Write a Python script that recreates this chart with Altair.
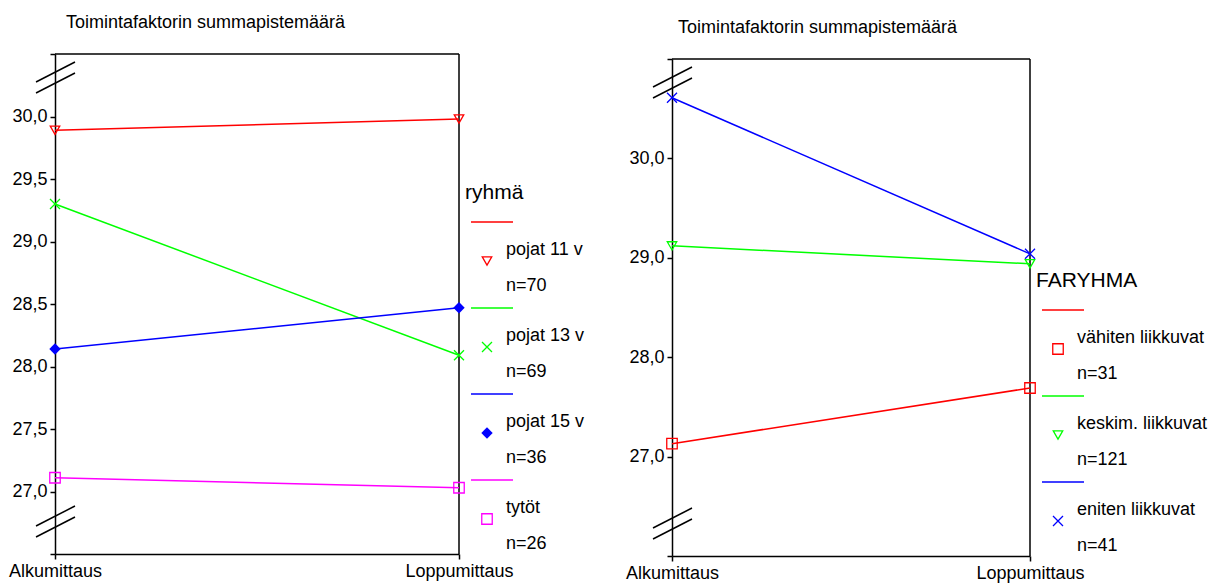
import altair as alt
import pandas as pd

FONT = "Liberation Sans"
MEASURES = ["Alkumittaus", "Loppumittaus"]
PANEL_TITLE = "Toimintafaktorin summapistemäärä"

# Left panel: age / gender groups
LEFT_LEGEND_TITLE = "ryhmä"
LEFT_GROUPS = ["pojat 11 v", "pojat 13 v", "pojat 15 v", "tytöt"]
LEFT_N = [70, 69, 36, 26]
LEFT_START = [29.89, 29.30, 28.14, 27.11]
LEFT_END = [29.98, 28.09, 28.47, 27.03]
LEFT_COLORS = ["#ff0000", "#00ff00", "#0000ff", "#ff00ff"]
LEFT_SHAPES = ["triangle-down", "x", "diamond", "square"]
LEFT_FILLED = [False, False, True, False]
LEFT_DOMAIN = [26.5, 30.5]
LEFT_TICKS = [26.5, 27.0, 27.5, 28.0, 28.5, 29.0, 29.5, 30.0, 30.5]

# Right panel: physical activity groups
RIGHT_LEGEND_TITLE = "FARYHMA"
RIGHT_GROUPS = ["vähiten liikkuvat", "keskim. liikkuvat", "eniten liikkuvat"]
RIGHT_N = [31, 121, 41]
RIGHT_START = [27.13, 29.12, 30.61]
RIGHT_END = [27.69, 28.94, 29.04]
RIGHT_COLORS = ["#ff0000", "#00ff00", "#0000ff"]
RIGHT_SHAPES = ["square", "triangle-down", "x"]
RIGHT_FILLED = [False, False, False]
RIGHT_DOMAIN = [26.0, 31.0]
RIGHT_TICKS = [26.0, 27.0, 28.0, 29.0, 30.0, 31.0]

X_PATH = "M-1,-1L1,1M-1,1L1,-1"
SHAPE_PATHS = {"x": X_PATH}
SHAPE_SIZES = {"triangle-down": 90, "x": 100, "diamond": 130, "square": 110}

ONE = pd.DataFrame({"k": [0]})


def deco():
    return alt.Chart(ONE)


def panel(legend_title, groups, ns, start, end, colors, shapes, filled,
          domain, ticks, width, height, inset, left_pad, top_pad, right_ext,
          bottom_ext, title_dx):
    """One framed panel; the frame starts `inset` px below the view's top."""
    df = pd.DataFrame({
        "ryhma": [g for g in groups for _ in MEASURES],
        "mittaus": MEASURES * len(groups),
        "arvo": [v for pair in zip(start, end) for v in pair],
    })
    lo, hi = domain[0] + 0.01, domain[1] - 0.01
    label_expr = (f"(datum.value < {lo} || datum.value > {hi}) ? '' : "
                  "replace(format(datum.value, '.1f'), '.', ',')")

    base = alt.Chart(df).encode(
        x=alt.X("mittaus:N", sort=MEASURES,
                scale=alt.Scale(type="point", padding=0),
                axis=alt.Axis(title=None, labelAngle=0, labelPadding=3)),
        y=alt.Y("arvo:Q",
                scale=alt.Scale(domain=domain, range=[height, inset],
                                nice=False, zero=False),
                axis=alt.Axis(title=None, values=ticks, labelExpr=label_expr,
                              labelPadding=3)),
    )

    layers = []
    # invisible box that fixes the panel's outer extent
    layers.append(deco().mark_rect(opacity=0).encode(
        x=alt.value(-left_pad), x2=alt.value(width + right_ext),
        y=alt.value(-top_pad), y2=alt.value(height + bottom_ext)))

    # top and right sides of the frame
    layers.append(deco().mark_rule(color="black", strokeWidth=1.5).encode(
        x=alt.value(0), x2=alt.value(width), y=alt.value(inset)))
    layers.append(deco().mark_rule(color="black", strokeWidth=1.5).encode(
        x=alt.value(width), y=alt.value(inset), y2=alt.value(height)))

    # panel title
    layers.append(deco().mark_text(
        text=PANEL_TITLE, align="left", baseline="alphabetic",
        font=FONT, fontSize=18, color="black").encode(
        x=alt.value(title_dx), y=alt.value(inset - 26)))

    # axis break marks at both ends of the y axis
    for c in [inset + 18, inset + 29, height - 38, height - 27]:
        layers.append(deco().mark_rule(color="black", strokeWidth=1.5).encode(
            x=alt.value(-19), y=alt.value(c + 10),
            x2=alt.value(20), y2=alt.value(c - 10)))

    # series lines and markers
    for g, c in zip(groups, colors):
        layers.append(base.transform_filter(alt.datum.ryhma == g)
                      .mark_line(color=c, strokeWidth=1.5))
    for g, c, s, f in zip(groups, colors, shapes, filled):
        layers.append(base.transform_filter(alt.datum.ryhma == g)
                      .mark_point(shape=SHAPE_PATHS.get(s, s), color=c, filled=f,
                                  size=SHAPE_SIZES[s], opacity=1, strokeWidth=1.3))

    # legend block to the right of the frame
    n_items = len(groups)
    first_line = height - 74 - 86 * (n_items - 1)
    layers.append(deco().mark_text(
        text=legend_title, align="left", baseline="middle",
        font=FONT, fontSize=21, color="black").encode(
        x=alt.value(width + 6), y=alt.value(first_line - 29)))
    for k, (g, n, c, s, f) in enumerate(zip(groups, ns, colors, shapes, filled)):
        ly = first_line + 86 * k
        layers.append(deco().mark_rule(color=c, strokeWidth=1.5).encode(
            x=alt.value(width + 12), x2=alt.value(width + 54), y=alt.value(ly)))
        layers.append(deco().mark_point(
            shape=SHAPE_PATHS.get(s, s), color=c, filled=f, size=SHAPE_SIZES[s],
            opacity=1, strokeWidth=1.3).encode(
            x=alt.value(width + 28), y=alt.value(ly + 39)))
        layers.append(deco().mark_text(
            text=g, align="left", baseline="middle", font=FONT, fontSize=18,
            color="black").encode(x=alt.value(width + 47), y=alt.value(ly + 28)))
        layers.append(deco().mark_text(
            text=f"n={n}", align="left", baseline="middle", font=FONT, fontSize=18,
            color="black").encode(x=alt.value(width + 47), y=alt.value(ly + 64)))

    return alt.layer(*layers).properties(width=width, height=height)


left = panel(LEFT_LEGEND_TITLE, LEFT_GROUPS, LEFT_N, LEFT_START, LEFT_END,
             LEFT_COLORS, LEFT_SHAPES, LEFT_FILLED, LEFT_DOMAIN, LEFT_TICKS,
             width=404, height=500, inset=0, left_pad=55, top_pad=54,
             right_ext=150, bottom_ext=29, title_dx=11)

right = panel(RIGHT_LEGEND_TITLE, RIGHT_GROUPS, RIGHT_N, RIGHT_START, RIGHT_END,
              RIGHT_COLORS, RIGHT_SHAPES, RIGHT_FILLED, RIGHT_DOMAIN, RIGHT_TICKS,
              width=358, height=502, inset=5, left_pad=63, top_pad=54,
              right_ext=195, bottom_ext=27, title_dx=6)

chart = (
    alt.hconcat(left, right, spacing=0)
    .properties(padding=0, background="white")
    .configure_view(stroke=None)
    .configure_axis(
        labelFont=FONT, labelFontSize=18, labelColor="black",
        tickColor="black", tickSize=5, tickWidth=1.5,
        domainColor="black", domainWidth=1.5, grid=False,
    )
)

chart.save("out.html", embed_options={"renderer": "svg", "actions": False})
